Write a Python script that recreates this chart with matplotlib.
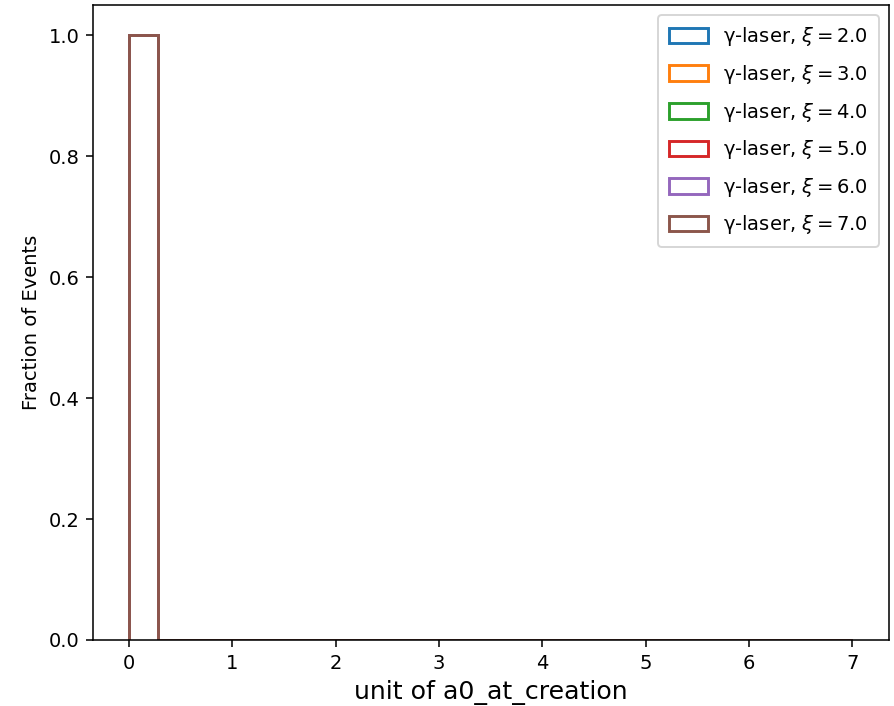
import numpy as np
import matplotlib
matplotlib.use('Agg')
import matplotlib.pyplot as plt

# 25 equal bins between 0 and 7
edges = np.linspace(0, 7, 26)
xi_values = [2.0, 3.0, 4.0, 5.0, 6.0, 7.0]
# fraction of events per bin, one list per xi
fractions = {
    2.0: [1.0] + [0.0] * 24,
    3.0: [1.0] + [0.0] * 24,
    4.0: [1.0] + [0.0] * 24,
    5.0: [1.0] + [0.0] * 24,
    6.0: [1.0] + [0.0] * 24,
    7.0: [1.0] + [0.0] * 24,
}

dpi = 140
fig = plt.figure(figsize=(894 / dpi, 706 / dpi), dpi=dpi)
ax = fig.add_axes([0.104, 0.0935, 0.89, 0.8995])
for xi in xi_values:
    ax.hist(edges[:-1], bins=edges, weights=fractions[xi], histtype='step',
            linewidth=1.5, label='γ-laser, $\\xi = %.1f$' % xi)
ax.set_xlabel('unit of a0_at_creation', fontsize=13)
ax.set_ylabel('Fraction of Events')
ax.legend(loc='upper right', labelspacing=0.75, handleheight=0.85, borderpad=0.55)
fig.savefig('out.png', dpi=dpi)
